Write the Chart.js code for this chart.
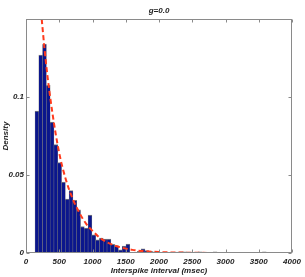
<!DOCTYPE html>
<html>
<head>
<meta charset="utf-8">
<script src="https://cdn.jsdelivr.net/npm/chart.js@4"></script>
<style>
  html, body { margin: 0; padding: 0; background: #fff; }
  #wrap { width: 305px; height: 277px; }
</style>
</head>
<body>
<div id="wrap"><canvas id="chart" width="305" height="277"></canvas></div>
<script>
// histogram bins (msec, bin centres) and their density
const binCenters = [164, 221, 278, 335, 392, 449, 506, 563, 620, 677, 734, 791, 848, 905, 962,
  1019, 1076, 1133, 1190, 1247, 1304, 1361, 1418, 1475, 1532, 1589, 1646, 1703, 1760, 1817,
  1874, 1931, 1988, 2045, 2102, 2159, 2216, 2273, 2330, 2387, 2444, 2501, 2558, 2615, 2672,
  2729, 2786, 2843, 2900, 2957, 3014, 3071, 3128, 3185, 3242, 3299, 3356, 3413, 3470, 3527, 3584];
const density = [0.091, 0.127, 0.134, 0.1075, 0.084, 0.0695, 0.058, 0.0455, 0.0345, 0.040,
  0.0337, 0.0277, 0.017, 0.016, 0.0243, 0.0116, 0.0084, 0.0095, 0.009, 0.009,
  0.0056, 0.0047, 0.002, 0.0045, 0.0058, null, null, 0.001, 0.0026, 0.0015,
  0.001, 0.0008, 0.0006, 0.0004, 0.0004, 0.0004, null, 0.0006, 0.0008, 0.0008,
  0.0006, null, null, 0.0008, null, null, null, 0.0008, null, null,
  null, null, null, null, null, null, null, null, null, null, 0.0008];

// dashed fitted curve
const fitX = [225, 300, 400, 500, 600, 700, 800, 900, 1000, 1100, 1200, 1300, 1400, 1500, 1600, 1800, 2000, 2300, 2600, 3000];
const fitY = [0.155, 0.122, 0.089, 0.064, 0.047, 0.035, 0.026, 0.019, 0.0142, 0.0101, 0.0073, 0.0053, 0.0039, 0.0028, 0.002, 0.0011, 0.0006, 0.0003, 0.0001, 0.00005];

const xTicks = [0, 500, 1000, 1500, 2000, 2500, 3000, 3500, 4000];
const xTickLabels = ['0', '500', '1000', '1500', '2000', '2500', '3000', '3500', '4000'];
const yTicks = [0, 0.05, 0.1];
const yTickLabels = ['0', '0.05', '0.1'];

const tickFont = { family: 'Liberation Sans', size: 8, weight: 'bold', style: 'italic' };

// matlab style box with inward ticks
const boxAxes = {
  id: 'boxAxes',
  afterDatasetsDraw(chart) {
    const { ctx, chartArea, scales: { x, y } } = chart;
    const l = Math.round(chartArea.left) + 0.5;
    const r = Math.round(chartArea.right) - 0.5;
    const t = Math.round(chartArea.top) + 0.5;
    const b = Math.round(chartArea.bottom) - 0.5;
    ctx.save();
    ctx.strokeStyle = '#8a8a8a';
    ctx.lineWidth = 1;
    ctx.strokeRect(l, t, r - l, b - t);
    ctx.beginPath();
    xTicks.forEach(v => {
      const px = Math.round(x.getPixelForValue(v)) + 0.5;
      ctx.moveTo(px, b); ctx.lineTo(px, b - 3);
      ctx.moveTo(px, t); ctx.lineTo(px, t + 3);
    });
    yTicks.forEach(v => {
      const py = Math.round(y.getPixelForValue(v)) + 0.5;
      ctx.moveTo(l, py); ctx.lineTo(l + 3, py);
      ctx.moveTo(r, py); ctx.lineTo(r - 3, py);
    });
    ctx.stroke();
    ctx.restore();
  }
};

new Chart(document.getElementById('chart'), {
  type: 'bar',
  data: {
    datasets: [{
      type: 'line',
      data: fitX.map((v, i) => ({ x: v, y: fitY[i] })),
      borderColor: '#ff3a1c',
      borderWidth: 2,
      borderDash: [5, 3],
      pointRadius: 0,
      cubicInterpolationMode: 'monotone',
      fill: false,
      order: 0,
    }, {
      data: binCenters.map((v, i) => ({ x: v, y: density[i] })),
      backgroundColor: '#0b168c',
      borderColor: '#7d7d7d',
      borderWidth: { top: 1, left: 0.5, right: 0.5, bottom: 0 },
      borderSkipped: false,
      barPercentage: 1,
      categoryPercentage: 1,
      order: 1,
    }]
  },
  options: {
    responsive: false,
    animation: false,
    layout: { padding: { left: 0, right: 13, top: 0, bottom: 0 } },
    plugins: {
      legend: { display: false },
      tooltip: { enabled: false },
      title: {
        display: true,
        text: 'g=0.0',
        fullSize: false,
        color: '#222',
        font: tickFont,
        padding: { top: 6, bottom: 3.5 },
      },
    },
    scales: {
      x: {
        type: 'linear',
        min: 0,
        max: 4000,
        offset: false,
        grid: { display: false, drawTicks: false, offset: false },
        border: { display: false },
        afterBuildTicks: (scale) => { scale.ticks = xTicks.map(v => ({ value: v })); },
        afterFit: (scale) => { scale.height = 24; },
        ticks: {
          color: '#222', font: tickFont, padding: 4, maxRotation: 0, autoSkip: false,
          callback: (v) => xTickLabels[xTicks.indexOf(v)],
        },
        title: { display: true, text: 'Interspike interval (msec)', color: '#222', font: tickFont, padding: { top: 0, bottom: 1 } },
      },
      y: {
        min: 0,
        max: 0.15,
        grid: { display: false, drawTicks: false },
        border: { display: false },
        afterBuildTicks: (scale) => { scale.ticks = yTicks.map(v => ({ value: v })); },
        afterFit: (scale) => { scale.width = 26; },
        ticks: {
          color: '#222', font: tickFont, padding: 2,
          callback: (v) => yTickLabels[yTicks.indexOf(v)],
        },
        title: { display: true, text: 'Density', color: '#222', font: tickFont, padding: { top: 1, bottom: 1 } },
      }
    }
  },
  plugins: [boxAxes],
});
</script>
</body>
</html>
